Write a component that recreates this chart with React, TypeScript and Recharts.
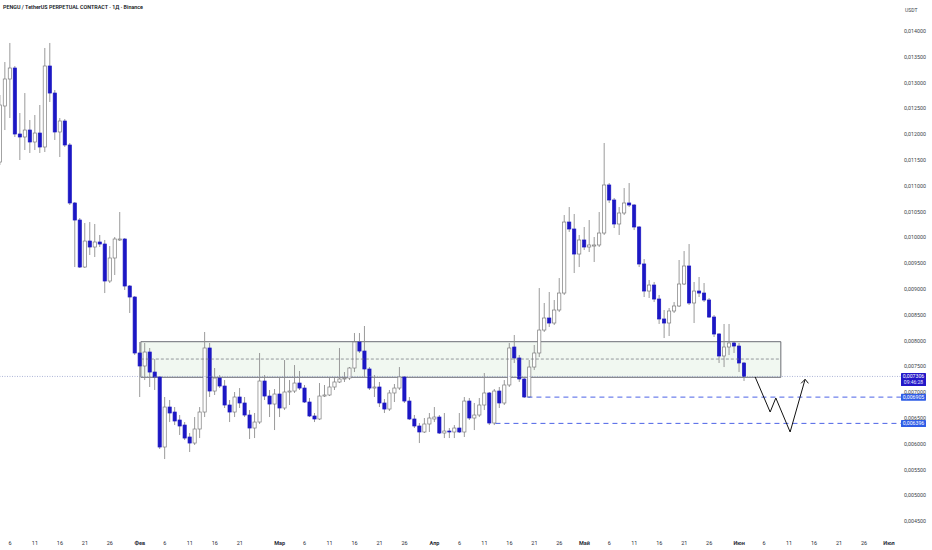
import React from 'react';
import { ComposedChart, Bar, Line, XAxis, YAxis, ReferenceArea, ReferenceLine } from 'recharts';

// Day index: Jan 1 = 0. First visible candle is Jan 4.
const START_DAY = 3;

const opens = [
  // Jan 4 - Jan 31
  0.011461, 0.012547, 0.013070, 0.013283, 0.012004, 0.011946, 0.012081, 0.011849, 0.012023, 0.011752,
  0.013322, 0.012798, 0.012043, 0.012256, 0.011791, 0.010667, 0.010337, 0.009426, 0.009930, 0.009814,
  0.009911, 0.009872, 0.009155, 0.009601, 0.009950, 0.009969, 0.009058, 0.008845,
  // Feb
  0.007760, 0.007508, 0.007779, 0.007391, 0.007295, 0.005938, 0.006713, 0.006616, 0.006461, 0.006364,
  0.006132, 0.006015, 0.006287, 0.006616, 0.007857, 0.007023, 0.007275, 0.007120, 0.006752, 0.006616,
  0.006907, 0.006791, 0.006558, 0.006306, 0.006422, 0.007217, 0.006926, 0.006771,
  // Mar
  0.006965, 0.006694, 0.007004, 0.007023, 0.007178, 0.007081, 0.006810, 0.006539, 0.006481, 0.006926,
  0.006946, 0.007101, 0.007198, 0.007256, 0.007275, 0.007469, 0.007973, 0.007798, 0.007450, 0.007081,
  0.007101, 0.006791, 0.006674, 0.006985, 0.007081, 0.007295, 0.006829, 0.006481, 0.006345, 0.006229,
  0.006384,
  // Apr
  0.006481, 0.006519, 0.006209, 0.006248, 0.006229, 0.006306, 0.006229, 0.006829, 0.006500, 0.006558,
  0.006752, 0.006985, 0.006403, 0.007023, 0.006791, 0.007140, 0.007876, 0.007663, 0.007256, 0.006907,
  0.007488, 0.007760, 0.008205, 0.008438, 0.008341, 0.008593, 0.008922, 0.010298, 0.010163, 0.009678,
  // May
  0.009950, 0.009814, 0.009833, 0.009853, 0.010085, 0.011016, 0.010725, 0.010260, 0.010473, 0.010667,
  0.010628, 0.010202, 0.009485, 0.008961, 0.009077, 0.008806, 0.008419, 0.008341, 0.008574, 0.008671,
  0.009097, 0.009446, 0.008729, 0.008961, 0.008922, 0.008787, 0.008457, 0.008128, 0.007702, 0.007876,
  0.007954,
  // Jun
  0.007895, 0.007566,
];

const highs = [
  0.012760, 0.013399, 0.013768, 0.013322, 0.012411, 0.012798, 0.012275, 0.012372, 0.012566, 0.013671,
  0.013768, 0.012857, 0.012314, 0.012295, 0.011830, 0.010686, 0.010376, 0.010279, 0.010298, 0.010260,
  0.010047, 0.009950, 0.009833, 0.010008, 0.010492, 0.009988, 0.009077, 0.008864,
  0.007973, 0.007954, 0.007857, 0.007643, 0.007314, 0.006907, 0.006849, 0.006713, 0.006558, 0.006422,
  0.006209, 0.006519, 0.006713, 0.008167, 0.007954, 0.007469, 0.007333, 0.007236, 0.006849, 0.007004,
  0.007081, 0.006907, 0.006655, 0.006597, 0.007760, 0.007333, 0.007043, 0.007062,
  0.007295, 0.007624, 0.007236, 0.007527, 0.007411, 0.007140, 0.006888, 0.006597, 0.007178, 0.007140,
  0.007275, 0.007275, 0.007857, 0.007391, 0.007488, 0.008147, 0.008147, 0.008283, 0.007488, 0.007333,
  0.007198, 0.006868, 0.007043, 0.007159, 0.007488, 0.007314, 0.006907, 0.006558, 0.006403, 0.006500,
  0.006597,
  0.006713, 0.006558, 0.006597, 0.006306, 0.006364, 0.006597, 0.006907, 0.006888, 0.006791, 0.006888,
  0.007372, 0.007004, 0.007062, 0.007101, 0.007236, 0.007954, 0.008109, 0.007721, 0.007295, 0.007624,
  0.007915, 0.009019, 0.008729, 0.008942, 0.008787, 0.009213, 0.010434, 0.010589, 0.010454, 0.010047,
  0.010202, 0.010337, 0.010008, 0.010492, 0.011830, 0.011054, 0.010764, 0.010589, 0.010957, 0.011054,
  0.010647, 0.010221, 0.009581, 0.009174, 0.009136, 0.008884, 0.008593, 0.008632, 0.008748, 0.009562,
  0.009736, 0.009872, 0.009136, 0.009233, 0.009116, 0.008826, 0.008496, 0.008147, 0.008322, 0.008322,
  0.007973,
  0.007954, 0.007585,
];

const lows = [
  0.011403, 0.012081, 0.012314, 0.011946, 0.011500, 0.011694, 0.011636, 0.011694, 0.011636, 0.011655,
  0.012624, 0.011888, 0.011558, 0.011752, 0.010628, 0.009426, 0.009407, 0.009407, 0.009659, 0.009620,
  0.009814, 0.008922, 0.009116, 0.009271, 0.009930, 0.008981, 0.008535, 0.007721,
  0.006907, 0.007236, 0.007101, 0.007043, 0.005899, 0.005705, 0.006422, 0.006364, 0.006171, 0.006074,
  0.005841, 0.005977, 0.006112, 0.006519, 0.006907, 0.006946, 0.007081, 0.006694, 0.006422, 0.006519,
  0.006694, 0.006519, 0.006093, 0.006112, 0.006384, 0.006849, 0.006519, 0.006267,
  0.006519, 0.006655, 0.006752, 0.006985, 0.007043, 0.006791, 0.006519, 0.006422, 0.006461, 0.006907,
  0.006926, 0.007043, 0.007178, 0.007198, 0.007236, 0.007391, 0.007760, 0.007275, 0.007043, 0.006907,
  0.006713, 0.006597, 0.006636, 0.006810, 0.007043, 0.006791, 0.006461, 0.006306, 0.006015, 0.006209,
  0.006229,
  0.006422, 0.006190, 0.006112, 0.006112, 0.006112, 0.006209, 0.006132, 0.006461, 0.006267, 0.006519,
  0.006655, 0.006364, 0.006364, 0.006694, 0.006752, 0.007101, 0.007566, 0.007198, 0.006888, 0.006888,
  0.007430, 0.007682, 0.008167, 0.008264, 0.008302, 0.008554, 0.008884, 0.010105, 0.009310, 0.009426,
  0.009756, 0.009717, 0.009523, 0.009814, 0.010047, 0.010667, 0.010182, 0.010047, 0.010434, 0.010589,
  0.010143, 0.009426, 0.008845, 0.008826, 0.008748, 0.008322, 0.008050, 0.008089, 0.008535, 0.008651,
  0.009077, 0.008690, 0.008341, 0.008845, 0.008748, 0.008438, 0.008070, 0.007566, 0.007488, 0.007721,
  0.007760,
  0.007391, 0.007217,
];

const closes = [
  0.012566, 0.013070, 0.013283, 0.012004, 0.011946, 0.012081, 0.011849, 0.012023, 0.011752, 0.013322,
  0.012798, 0.012043, 0.012256, 0.011791, 0.010667, 0.010337, 0.009426, 0.009930, 0.009814, 0.009911,
  0.009872, 0.009155, 0.009601, 0.009969, 0.009969, 0.009058, 0.008845, 0.007760,
  0.007508, 0.007779, 0.007391, 0.007295, 0.005938, 0.006713, 0.006597, 0.006442, 0.006345, 0.006112,
  0.006015, 0.006287, 0.006616, 0.007857, 0.007023, 0.007275, 0.007120, 0.006752, 0.006616, 0.006907,
  0.006791, 0.006558, 0.006306, 0.006422, 0.007217, 0.006926, 0.006771, 0.006965,
  0.006694, 0.007004, 0.007023, 0.007178, 0.007081, 0.006810, 0.006539, 0.006481, 0.006926, 0.006946,
  0.007101, 0.007198, 0.007256, 0.007275, 0.007469, 0.007973, 0.007798, 0.007450, 0.007081, 0.007101,
  0.006791, 0.006674, 0.006985, 0.007081, 0.007295, 0.006829, 0.006481, 0.006345, 0.006229, 0.006384,
  0.006500,
  0.006519, 0.006209, 0.006248, 0.006229, 0.006306, 0.006229, 0.006829, 0.006500, 0.006558, 0.006752,
  0.006985, 0.006403, 0.007023, 0.006791, 0.007140, 0.007857, 0.007663, 0.007256, 0.006907, 0.007488,
  0.007760, 0.008205, 0.008438, 0.008341, 0.008593, 0.008922, 0.010298, 0.010163, 0.009678, 0.009950,
  0.009814, 0.009853, 0.009853, 0.010085, 0.011016, 0.010725, 0.010260, 0.010473, 0.010667, 0.010628,
  0.010202, 0.009485, 0.008961, 0.009077, 0.008806, 0.008419, 0.008341, 0.008574, 0.008671, 0.009097,
  0.009446, 0.008729, 0.008961, 0.008922, 0.008787, 0.008457, 0.008128, 0.007702, 0.007876, 0.007954,
  0.007895,
  0.007566, 0.007306,
];

const xTickDays = [5, 10, 15, 20, 25, 31, 36, 41, 46, 51, 59, 64, 69, 74, 79, 84, 90, 95, 100, 105, 110, 115,
  120, 125, 130, 135, 140, 145, 151, 156, 161, 166, 171, 176, 181];
const xTickLabels = ['6', '11', '16', '21', '26', 'Фев', '6', '11', '16', '21', 'Мар', '6', '11', '16', '21', '26',
  'Апр', '6', '11', '16', '21', '26', 'Май', '6', '11', '16', '21', '26', 'Июн', '6', '11', '16', '21', '26', 'Июл'];

const yTicks = [0.0045, 0.005, 0.0055, 0.006, 0.0065, 0.007, 0.0075, 0.008, 0.0085, 0.009, 0.0095, 0.01,
  0.0105, 0.011, 0.0115, 0.012, 0.0125, 0.013, 0.0135, 0.014];

const currentPrice = 0.007306;
const countdown = '09:46:28';
const level1 = 0.006905;
const level2 = 0.006396;

// Zone (rectangle) and mid line
const zoneDays = [31.2, 159.34];
const zoneTop = 0.007979;
const zoneBottom = 0.007289;
const zoneMid = 0.007643;

const level1StartDay = 108.6;
const level2StartDay = 102.2;

// Projected path
const pathDays = [154.2, 157.2, 158.34, 161.2, 164.2];
const pathValues = [0.007295, 0.006616, 0.006888, 0.006229, 0.00725];
const headDays = [163.4, 164.2, 164.86];
const headValues = [0.007172, 0.00725, 0.007172];

const X_DOMAIN: [number, number] = [3.2, 183.8];
const Y_DOMAIN: [number, number] = [0.004291, 0.014601];

const BLUE = '#1c17c4';
const FONT = 'Roboto, "Noto Sans", sans-serif';

const candles = opens.map((o, i) => ({ d: START_DAY + i, o, h: highs[i], l: lows[i], c: closes[i] }));
const pathData = pathDays.map((d, i) => ({ d, v: pathValues[i] }));
const headData = headDays.map((d, i) => ({ d, v: headValues[i] }));

const fmt = (v: number) => v.toFixed(6).replace('.', ',');

const Candle = (props: any) => {
  const { x, y, width, height, payload } = props;
  if (x == null || y == null || !payload) return null;
  const top = Math.min(y, y + height);
  const bot = Math.max(y, y + height);
  const { o, h, l, c } = payload;
  const span = h - l || 1e-9;
  const toY = (v: number) => top + ((h - v) / span) * (bot - top);
  const cx = x + width / 2;
  const up = c >= o;
  const yO = toY(o);
  const yC = toY(c);
  const bTop = Math.min(yO, yC);
  const bH = Math.max(Math.abs(yO - yC), 0.9);
  return (
    <g>
      <line x1={cx} x2={cx} y1={top} y2={bot} stroke="#8f8f8f" strokeWidth={0.9} />
      <rect
        x={cx - 1.6}
        y={bTop}
        width={3.2}
        height={bH}
        fill={up ? '#ffffff' : BLUE}
        stroke={up ? '#7c7c7c' : BLUE}
        strokeWidth={0.7}
      />
    </g>
  );
};

const XTick = (props: any) => {
  const { x, y, payload } = props;
  const idx = xTickDays.indexOf(payload.value);
  const lbl = idx >= 0 ? xTickLabels[idx] : '';
  const isMonth = isNaN(Number(lbl));
  return (
    <text x={x} y={y + 13} textAnchor="middle" fontSize={5.5} fill="#2a2e39" fontWeight={isMonth ? 700 : 400} fontFamily={FONT}>
      {lbl}
    </text>
  );
};

const YTick = (props: any) => {
  const { x, y, payload } = props;
  return (
    <text x={x} y={y} dy={2} textAnchor="start" fontSize={5.3} fill="#3b3f4a" fontFamily={FONT}>
      {fmt(payload.value)}
    </text>
  );
};

const makeTag = (value: number, color: string, sub?: string) => (p: any) => {
  const vb = p.viewBox || {};
  const px = (vb.x ?? 0) + (vb.width ?? 0) - 2;
  const py = vb.y ?? 0;
  const h = sub ? 13 : 7;
  const top = py - 3.4;
  return (
    <g>
      <rect x={px} y={top} width={25} height={h} fill={color} rx={0.6} />
      <text x={px + 12.5} y={py + 1.9} textAnchor="middle" fontSize={5.2} fill="#ffffff" fontFamily={FONT}>
        {fmt(value)}
      </text>
      {sub ? (
        <text x={px + 12.5} y={py + 8} textAnchor="middle" fontSize={5} fill="#e6e8ff" fontFamily={FONT}>
          {sub}
        </text>
      ) : null}
    </g>
  );
};

export default function App() {
  return (
    <div style={{ position: 'absolute', left: 0, top: 0, width: 932, height: 550, background: '#ffffff', overflow: 'hidden' }}>
      <ComposedChart width={932} height={550} data={candles} margin={{ top: 0, right: 0, bottom: 0, left: 0 }}>
        <XAxis
          dataKey="d"
          type="number"
          domain={X_DOMAIN}
          ticks={xTickDays}
          interval={0}
          tick={<XTick />}
          tickLine={false}
          axisLine={false}
          tickSize={0}
          tickMargin={0}
          height={18}
        />
        <YAxis
          orientation="right"
          type="number"
          domain={Y_DOMAIN}
          ticks={yTicks}
          interval={0}
          tick={<YTick />}
          tickLine={false}
          axisLine={false}
          tickSize={0}
          tickMargin={1}
          width={29}
        />
        <ReferenceArea
          x1={zoneDays[0]}
          x2={zoneDays[1]}
          y1={zoneBottom}
          y2={zoneTop}
          fill="#dff0df"
          fillOpacity={0.45}
          stroke="#4a4d55"
          strokeWidth={0.9}
          strokeOpacity={0.9}
        />
        <ReferenceLine
          segment={[{ x: zoneDays[0], y: zoneMid }, { x: zoneDays[1], y: zoneMid }]}
          stroke="#6b6e78"
          strokeWidth={0.7}
          strokeDasharray="3 2"
        />
        <ReferenceLine y={currentPrice} stroke="#8a93c4" strokeWidth={0.7} strokeDasharray="1 1.5" />
        <ReferenceLine
          segment={[{ x: level1StartDay, y: level1 }, { x: X_DOMAIN[1], y: level1 }]}
          stroke="#4c62e6"
          strokeWidth={1}
          strokeDasharray="5 4"
        />
        <ReferenceLine
          segment={[{ x: level2StartDay, y: level2 }, { x: X_DOMAIN[1], y: level2 }]}
          stroke="#4c62e6"
          strokeWidth={1}
          strokeDasharray="5 4"
        />
        <Bar
          dataKey={(e: any) => [e.l, e.h]}
          barSize={3}
          shape={(p: any) => <Candle {...p} />}
          isAnimationActive={false}
        />
        <Line data={pathData} dataKey="v" stroke="#111111" strokeWidth={1} dot={false} activeDot={false} isAnimationActive={false} />
        <Line data={headData} dataKey="v" stroke="#111111" strokeWidth={1} dot={false} activeDot={false} isAnimationActive={false} />
        <ReferenceLine y={level1} stroke="none" strokeOpacity={0} label={makeTag(level1, '#2f5de6')} />
        <ReferenceLine y={level2} stroke="none" strokeOpacity={0} label={makeTag(level2, '#2f5de6')} />
        <ReferenceLine y={currentPrice} stroke="none" strokeOpacity={0} label={makeTag(currentPrice, '#2418c8', countdown)} />
      </ComposedChart>
      <div
        style={{
          position: 'absolute',
          left: 3,
          top: 3,
          fontFamily: FONT,
          fontSize: 5.4,
          fontWeight: 600,
          color: '#131722',
          whiteSpace: 'nowrap',
          lineHeight: '8px',
        }}
      >
        PENGU / TetherUS PERPETUAL CONTRACT · 1Д · Binance
      </div>
      <div
        style={{
          position: 'absolute',
          left: 905,
          top: 6,
          fontFamily: FONT,
          fontSize: 5,
          color: '#3b3f4a',
          lineHeight: '8px',
        }}
      >
        USDT
      </div>
    </div>
  );
}
